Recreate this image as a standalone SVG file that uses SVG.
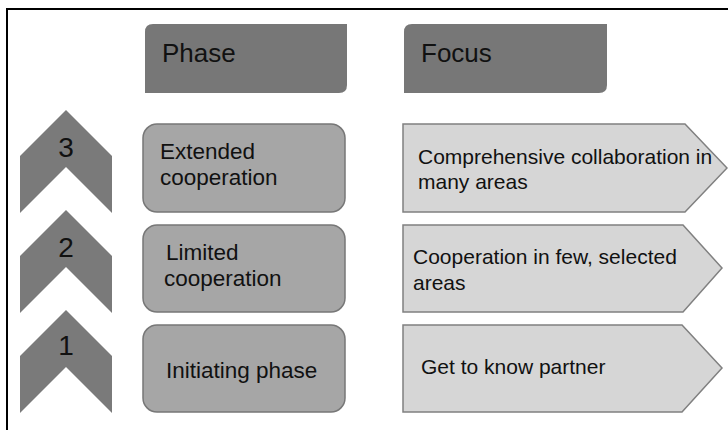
<svg xmlns="http://www.w3.org/2000/svg" width="728" height="430" viewBox="0 0 728 430">
<style>
.hdr{fill:#777777}
.chev{fill:#7a7a7a}
.pbox{fill:#a6a6a6;stroke:#777777;stroke-width:1.5}
.fbox{fill:#d6d6d6;stroke:#808080;stroke-width:1.5}
text{font-family:"Liberation Sans",Arial,sans-serif;fill:#111111}
.h{font-size:26px}
.n{font-size:28px;text-anchor:middle}
.t{font-size:22.5px}
.f{font-size:21px}
</style>
<rect x="0" y="0" width="728" height="430" fill="#ffffff"/>
<path d="M7,432 V9 H730" fill="none" stroke="#000000" stroke-width="2"/>
<g id="header-phase">
<path class="hdr" d="M153,24 H347 V85 Q347,93 339,93 H145 V32 Q145,24 153,24 Z"/>
<text class="h" x="162" y="62">Phase</text>
</g>
<g id="header-focus">
<path class="hdr" d="M412,24 H607 V85 Q607,93 599,93 H404 V32 Q404,24 412,24 Z"/>
<text class="h" x="421" y="62">Focus</text>
</g>
<g id="step3">
<path class="chev" d="M66,110 L112,156 V213 L66,167 L20,213 V156 Z"/>
<text class="n" x="66" y="157">3</text>
</g>
<g id="step2">
<path class="chev" d="M66,210 L112,256 V313 L66,267 L20,313 V256 Z"/>
<text class="n" x="66" y="257">2</text>
</g>
<g id="step1">
<path class="chev" d="M66,310 L112,356 V413 L66,367 L20,413 V356 Z"/>
<text class="n" x="66" y="355">1</text>
</g>
<g id="phase3">
<rect class="pbox" x="143" y="124" width="202" height="88" rx="14"/>
<text class="t" x="160" y="159">Extended</text>
<text class="t" x="160" y="185">cooperation</text>
</g>
<g id="phase2">
<rect class="pbox" x="143" y="225" width="202" height="87" rx="14"/>
<text class="t" x="166" y="260">Limited</text>
<text class="t" x="164" y="286">cooperation</text>
</g>
<g id="phase1">
<rect class="pbox" x="143" y="325" width="202" height="87" rx="14"/>
<text class="t" x="166" y="378">Initiating phase</text>
</g>
<g id="focus3">
<path class="fbox" d="M403,124 H685 L727,168 L685,212 H403 Z"/>
<text class="f" x="418" y="164">Comprehensive collaboration in</text>
<text class="f" x="418" y="189">many areas</text>
</g>
<g id="focus2">
<path class="fbox" d="M403,225 H683 L722,268 L683,312 H403 Z"/>
<text class="f" x="413" y="264">Cooperation in few, selected</text>
<text class="f" x="413" y="290">areas</text>
</g>
<g id="focus1">
<path class="fbox" d="M403,325 H682 L722,368 L682,412 H403 Z"/>
<text class="f" x="421" y="374">Get to know partner</text>
</g>
<g id="connectors"></g>
</svg>
